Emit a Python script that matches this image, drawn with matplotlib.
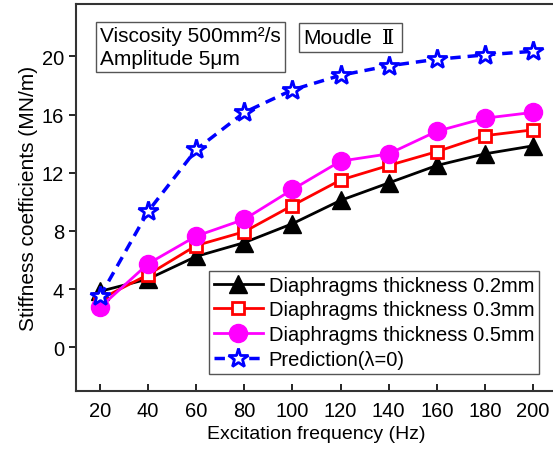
import matplotlib
matplotlib.use("Agg")
import matplotlib.pyplot as plt
from matplotlib.patches import Rectangle

plt.rcParams["font.family"] = ["Liberation Sans", "DejaVu Sans"]

freq = [20, 40, 60, 80, 100, 120, 140, 160, 180, 200]
k_02mm = [3.85, 4.7, 6.25, 7.2, 8.5, 10.1, 11.3, 12.5, 13.3, 13.85]
k_03mm = [3.3, 5.0, 7.0, 7.95, 9.75, 11.5, 12.5, 13.45, 14.55, 14.95]
k_05mm = [2.75, 5.75, 7.65, 8.8, 10.85, 12.8, 13.3, 14.85, 15.75, 16.15]
k_pred = [3.5, 9.35, 13.6, 16.15, 17.7, 18.7, 19.35, 19.8, 20.1, 20.35]

labels = ["Diaphragms thickness 0.2mm", "Diaphragms thickness 0.3mm",
          "Diaphragms thickness 0.5mm", "Prediction(\u03bb=0)"]

W, H = 553, 452
fig = plt.figure(figsize=(W / 100, H / 100), dpi=100)
ax = fig.add_axes([76 / W, 1 - 392 / H, (557 - 76) / W, (392 - 5) / H])

ax.plot(freq, k_02mm, color="black", lw=2, marker="^", ms=13, label=labels[0])
ax.plot(freq, k_03mm, color="red", lw=2, marker="s", ms=9, mfc="white",
        mew=2, label=labels[1])
ax.plot(freq, k_05mm, color="#FF00FF", lw=2, marker="o", ms=13, label=labels[2])
ax.plot(freq, k_pred, color="blue", lw=2.5, ls=(0, (3, 2)), marker="*", ms=15,
        mfc="white", mew=2, label=labels[3])

ax.set_xlim(10, 210)
ax.set_ylim(-3, 23.6)
ax.set_xticks(freq)
ax.set_yticks([0, 4, 8, 12, 16, 20])
ax.tick_params(axis="y", direction="out", length=5, width=1.2, labelsize=14.5)
ax.tick_params(axis="x", direction="in", length=5, width=1.2, labelsize=14.5, pad=7)
for s in ax.spines.values():
    s.set_linewidth(1.5)
    s.set_color("#333333")

ax.set_xlabel("Excitation frequency (Hz)", fontsize=14, labelpad=4)
ax.set_ylabel("Stiffness coefficients (MN/m)", fontsize=15, labelpad=3)

leg = ax.legend(loc="lower right", bbox_to_anchor=(0.963, 0.045), fontsize=14.5,
                fancybox=False, edgecolor="#555555", framealpha=1,
                handlelength=2.4, borderpad=0.25, labelspacing=0.28,
                handletextpad=0.3, borderaxespad=0)
leg.get_frame().set_linewidth(1)

box = dict(boxstyle="square,pad=0.2", fc="white", ec="#555555", lw=1)
ax.text(0.05, 0.943, "Viscosity 500mm\u00b2/s\nAmplitude 5\u03bcm", transform=ax.transAxes,
        fontsize=15, va="top", ha="left", bbox=box, linespacing=1.25)

# "Moudle II" label: frame drawn as a patch, two texts side by side
ax.add_patch(Rectangle((0.4636, 0.876), 0.214, 0.075, transform=ax.transAxes,
                       fc="white", ec="#555555", lw=1, zorder=4))
ax.text(0.472, 0.914, "Moudle", transform=ax.transAxes, fontsize=15,
        va="center", ha="left", zorder=5)
ax.text(0.636, 0.914, "\u2161", transform=ax.transAxes, fontsize=15,
        va="center", ha="left", family=["DejaVu Serif", "DejaVu Sans"], zorder=5)

fig.savefig("out.png", dpi=100)
